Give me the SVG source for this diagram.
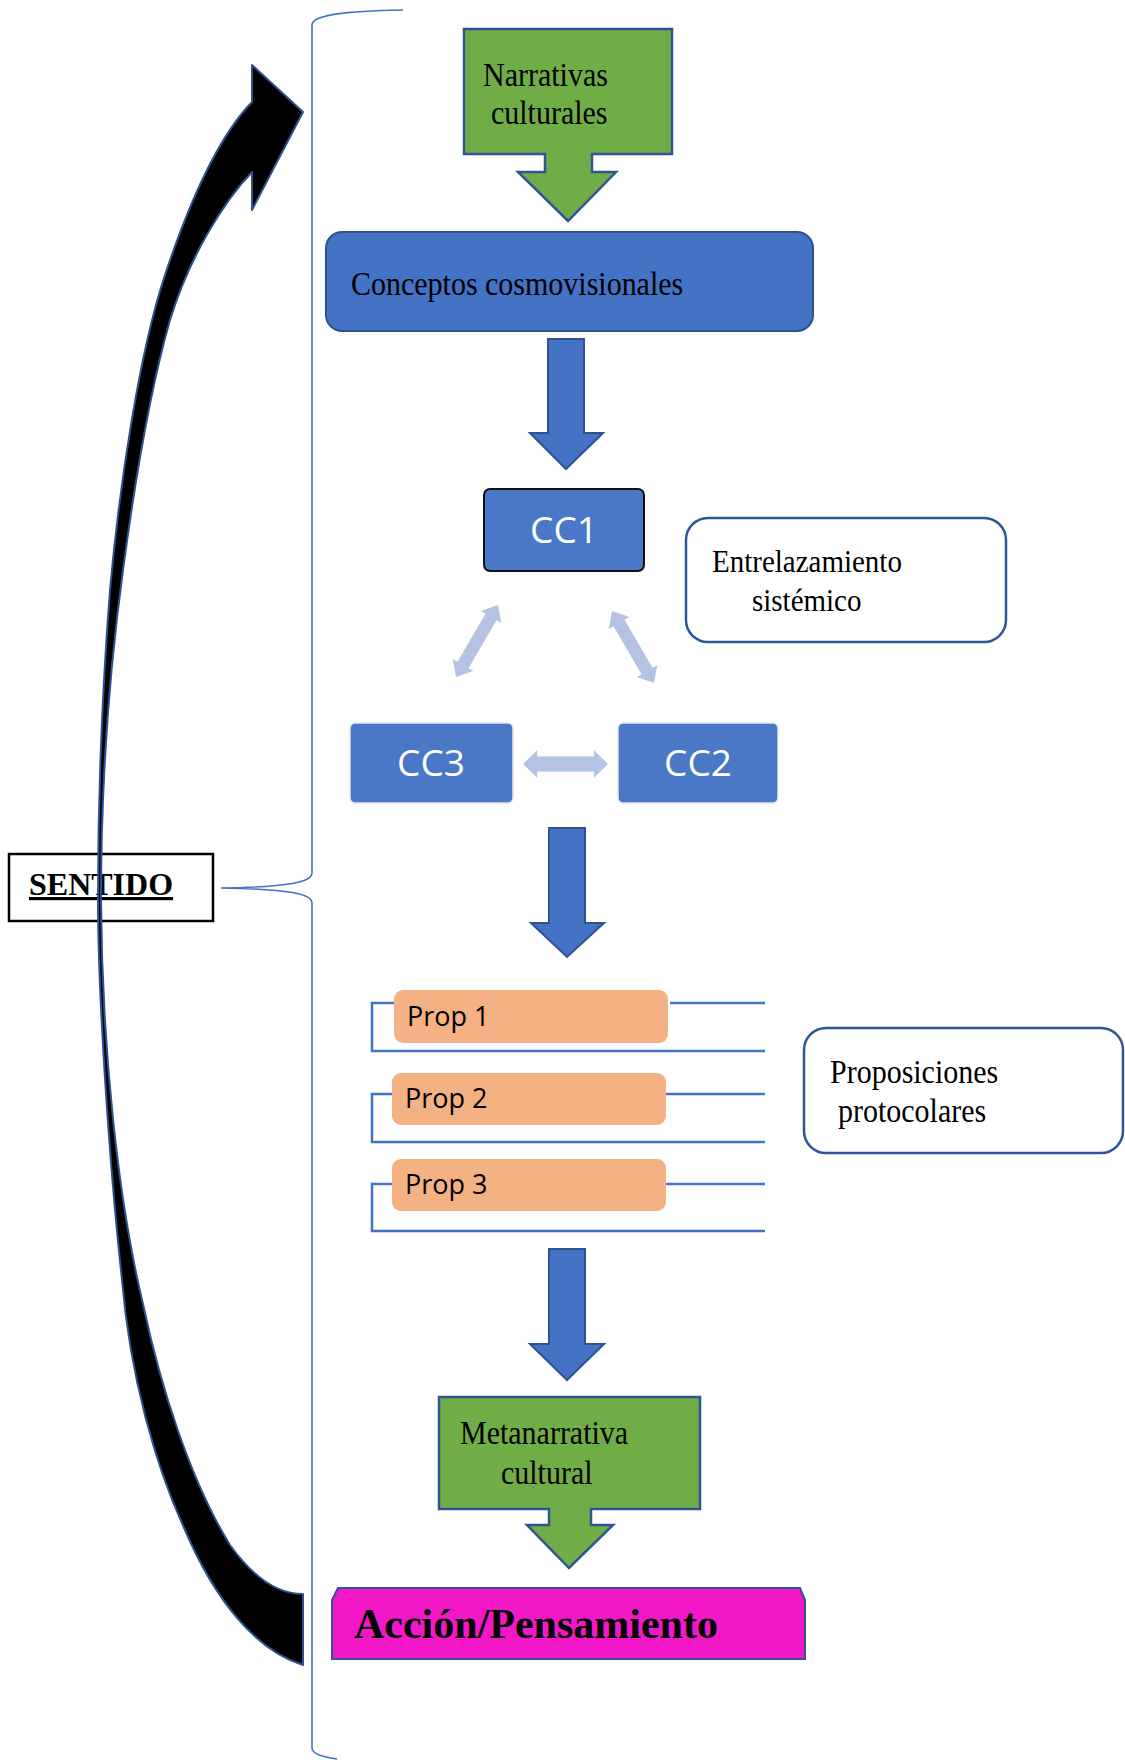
<svg xmlns="http://www.w3.org/2000/svg" width="1125" height="1760" viewBox="0 0 1125 1760">
<style>
.serif{font-family:"Liberation Serif","Times New Roman",serif;fill:#000}
.green{fill:#70AD47;stroke:#2F5597;stroke-width:2.5}
.barrow{fill:#4472C4;stroke:#2F528F;stroke-width:2}
.cc{fill:#4A78C6;stroke:#E2E6EE;stroke-width:1.5}
.cctext{font-family:"Open Sans","Noto Sans",sans-serif;font-size:37px;fill:#fff;text-anchor:middle}
.note{fill:#fff;stroke:#2F5597;stroke-width:2.5}
.prop{fill:#F4B183}
.proptext{font-family:"Open Sans","Noto Sans",sans-serif;font-size:27px;fill:#000}
.bracket{fill:none;stroke:#4472C4;stroke-width:2.5}
.light{fill:#B4C3E1}
</style>
<defs>
<polygon id="dbl" points="-42,0 -28,-14 -28,-7.5 28,-7.5 28,-14 42,0 28,14 28,7.5 -28,7.5 -28,14"/>
</defs>
<rect width="1125" height="1760" fill="#fff"/>

<g id="sentido">
<rect x="9" y="854" width="204" height="67" fill="#fff" stroke="#000" stroke-width="2.5"/>
<text x="29" y="895" class="serif" font-size="32" font-weight="bold" text-decoration="underline">SENTIDO</text>
</g>

<g id="connectors">
<path id="brace" d="M403,10 C345,11 312,15 312,25 L312,873 C312,882 290,887 221,888 C290,889 312,894 312,903 L312,1748 C312,1754 322,1757 337,1759" fill="none" stroke="#4472C4" stroke-width="1.6"/>
<path id="curved-arrow" d="M303,1665 C255,1650 215,1600 185,1530 C155,1465 130,1375 122,1280 C110,1170 98,1000 98,900 C98,780 103,680 110,590 C120,480 140,350 165,275 C185,215 215,140 252,102 L252,65 L303,112 L252,210 L252,172 C225,200 190,255 170,320 C150,390 135,480 123,570 C108,680 101,800 101,900 C102,1050 118,1200 143,1304 C160,1385 190,1480 230,1545 C255,1580 280,1594 303,1594 Z" fill="#000" stroke="#2F528F" stroke-width="2" stroke-linejoin="round"/>
<path id="arrow1" class="barrow" d="M548,339 H584 V433 H603 L566,469 L530,433 H548 Z"/>
<path id="arrow2" class="barrow" d="M549,828 H585 V923 H604 L567,957 L531,923 H549 Z"/>
<path id="arrow3" class="barrow" d="M549,1249 H585 V1344 H604 L567,1380 L530,1344 H549 Z"/>
<use href="#dbl" class="light" transform="translate(477,641) rotate(-59.7) scale(0.99,0.85)"/>
<use href="#dbl" class="light" transform="translate(633,647) rotate(59.7) scale(0.99,0.85)"/>
<use href="#dbl" class="light" transform="translate(565.5,764) scale(1.01,1)"/>
</g>

<g id="narrativas">
<path class="green" d="M464,29 H672 V154 H592 V172 H616 L568,221 L518,172 H545 V154 H464 Z"/>
<text class="serif" font-size="30" x="483" y="86" transform="matrix(1,0,0,1.1,0,-8.6)">Narrativas</text>
<text class="serif" font-size="30" x="491" y="124" transform="matrix(1,0,0,1.1,0,-12.4)">culturales</text>
</g>

<g id="conceptos">
<rect x="326" y="232" width="487" height="99" rx="16" fill="#4472C4" stroke="#2F528F" stroke-width="2"/>
<text x="351" y="295" class="serif" font-size="30" transform="matrix(1,0,0,1.1,0,-29.5)">Conceptos cosmovisionales</text>
</g>

<g id="cc1">
<rect x="484" y="489" width="160" height="82" rx="6" fill="#4A78C6" stroke="#111" stroke-width="2"/>
<text x="564" y="543" class="cctext">CC1</text>
</g>

<g id="entrelazamiento">
<rect x="686" y="518" width="320" height="124" rx="22" class="note"/>
<text class="serif" font-size="29" x="712" y="572" transform="matrix(1,0,0,1.1,0,-57.2)">Entrelazamiento</text>
<text class="serif" font-size="29" x="752" y="611" transform="matrix(1,0,0,1.1,0,-61.1)">sistémico</text>
</g>

<g id="cc3">
<rect x="350" y="723" width="163" height="80" rx="5" class="cc"/>
<text x="431" y="776" class="cctext">CC3</text>
</g>

<g id="cc2">
<rect x="618" y="723" width="160" height="80" rx="5" class="cc"/>
<text x="698" y="776" class="cctext">CC2</text>
</g>

<g id="prop1">
<path class="bracket" d="M394,1003 H372 V1051 H765 M670,1003 H765"/>
<rect x="394" y="990" width="274" height="53" rx="9" class="prop"/>
<text x="407" y="1026" class="proptext">Prop 1</text>
</g>

<g id="prop2">
<path class="bracket" d="M392,1094 H372 V1142 H765 M666,1094 H765"/>
<rect x="392" y="1073" width="274" height="52" rx="9" class="prop"/>
<text x="405" y="1108" class="proptext">Prop 2</text>
</g>

<g id="prop3">
<path class="bracket" d="M392,1184 H372 V1231 H765 M666,1184 H765" stroke-width="1.6"/>
<rect x="392" y="1159" width="274" height="52" rx="9" class="prop"/>
<text x="405" y="1194" class="proptext">Prop 3</text>
</g>

<g id="proposiciones">
<rect x="804" y="1028" width="319" height="125" rx="22" class="note"/>
<text class="serif" font-size="30" x="830" y="1083" transform="matrix(1,0,0,1.1,0,-108.3)">Proposiciones</text>
<text class="serif" font-size="30" x="838" y="1122" transform="matrix(1,0,0,1.1,0,-112.2)">protocolares</text>
</g>

<g id="metanarrativa">
<path class="green" d="M439,1397 H700 V1509 H591 V1525 H613 L569,1568 L527,1525 H549 V1509 H439 Z"/>
<text class="serif" font-size="30" x="460" y="1444" transform="matrix(1,0,0,1.1,0,-144.4)">Metanarrativa</text>
<text class="serif" font-size="30" x="501" y="1484" transform="matrix(1,0,0,1.1,0,-148.4)">cultural</text>
</g>

<g id="accion">
<path d="M338,1588 H800 L805,1600 V1659 H332 V1600 Z" fill="#F218C8" stroke="#2F5597" stroke-width="2"/>
<text x="354" y="1638" class="serif" font-size="42" font-weight="bold">Acción/Pensamiento</text>
</g>
</svg>
